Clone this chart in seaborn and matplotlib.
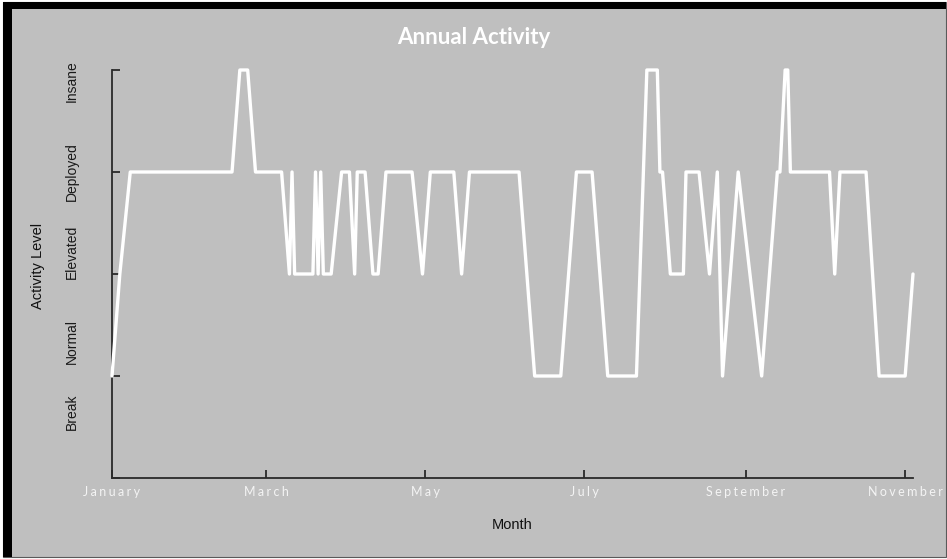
import matplotlib
matplotlib.use("Agg")
import matplotlib.pyplot as plt
import matplotlib.dates as mdates
from matplotlib.patches import Rectangle
import seaborn as sns
import pandas as pd

# ---------------- data ----------------
title = "Annual Activity"
x_title = "Month"
y_title = "Activity Level"
level_names = ["Break", "Normal", "Elevated", "Deployed", "Insane"]
month_ticks = ["2015-01-01", "2015-03-01", "2015-05-01", "2015-07-01", "2015-09-01", "2015-11-01"]
month_labels = ["January", "March", "May", "July", "September", "November"]

dates = [
    "2015-01-01", "2015-01-04", "2015-01-08", "2015-02-16", "2015-02-19", "2015-02-22",
    "2015-02-25", "2015-03-07", "2015-03-10", "2015-03-11", "2015-03-12", "2015-03-19",
    "2015-03-20", "2015-03-21", "2015-03-22", "2015-03-23", "2015-03-26", "2015-03-30",
    "2015-04-02", "2015-04-04", "2015-04-05", "2015-04-08", "2015-04-11", "2015-04-13",
    "2015-04-16", "2015-04-26", "2015-04-30", "2015-05-03", "2015-05-12", "2015-05-15",
    "2015-05-18", "2015-06-06", "2015-06-12", "2015-06-22", "2015-06-28", "2015-07-04",
    "2015-07-10", "2015-07-21", "2015-07-25", "2015-07-29", "2015-07-30", "2015-07-31",
    "2015-08-03", "2015-08-08", "2015-08-09", "2015-08-14", "2015-08-18", "2015-08-21",
    "2015-08-23", "2015-08-29", "2015-09-07", "2015-09-13", "2015-09-14", "2015-09-16",
    "2015-09-17", "2015-09-18", "2015-10-03", "2015-10-05", "2015-10-07", "2015-10-17",
    "2015-10-22", "2015-11-01", "2015-11-04",
]
activity = [
    "Normal", "Elevated", "Deployed", "Deployed", "Insane", "Insane",
    "Deployed", "Deployed", "Elevated", "Deployed", "Elevated", "Elevated",
    "Deployed", "Elevated", "Deployed", "Elevated", "Elevated", "Deployed",
    "Deployed", "Elevated", "Deployed", "Deployed", "Elevated", "Elevated",
    "Deployed", "Deployed", "Elevated", "Deployed", "Deployed", "Elevated",
    "Deployed", "Deployed", "Normal", "Normal", "Deployed", "Deployed",
    "Normal", "Normal", "Insane", "Insane", "Deployed", "Deployed",
    "Elevated", "Elevated", "Deployed", "Deployed", "Elevated", "Deployed",
    "Normal", "Deployed", "Normal", "Deployed", "Deployed", "Insane",
    "Insane", "Deployed", "Deployed", "Elevated", "Deployed", "Deployed",
    "Normal", "Normal", "Elevated",
]

df = pd.DataFrame({"date": pd.to_datetime(dates), "name": activity})
df["level"] = df["name"].map({n: i for i, n in enumerate(level_names)})

# ---------------- style ----------------
BG = "#bfbfbf"
W, H = 947, 559
sns.set_theme(style="white")
plt.rcParams["font.family"] = ["Liberation Sans", "DejaVu Sans"]

fig = plt.figure(figsize=(W / 100, H / 100), dpi=100, facecolor="white")

# frame: gray panel with black top/left bars
fig.add_artist(Rectangle((3 / W, 2 / H), 943 / W, 555 / H, transform=fig.transFigure,
                         facecolor=BG, edgecolor="#5a5a5a", lw=0.8, zorder=-10))
fig.add_artist(Rectangle((3 / W, 2 / H), 9 / W, 555 / H, transform=fig.transFigure,
                         facecolor="black", edgecolor="none", zorder=-9))
fig.add_artist(Rectangle((3 / W, (H - 9) / H), 943 / W, 7 / H, transform=fig.transFigure,
                         facecolor="black", edgecolor="none", zorder=-9))

ax = fig.add_axes([112 / W, 81 / H, 801 / W, 408 / H])
ax.set_facecolor(BG)

sns.lineplot(data=df, x="date", y="level", ax=ax, color="white", lw=2.4,
             clip_on=False, zorder=5)

ax.set_xlim(df["date"].min(), df["date"].max())
ax.set_ylim(0, len(level_names) - 1)

for s in ["top", "right"]:
    ax.spines[s].set_visible(False)
for s in ["left", "bottom"]:
    ax.spines[s].set_color("#2a2a2a")
    ax.spines[s].set_linewidth(1.3)

ax.set_yticks(range(len(level_names)))
ax.set_yticklabels([])
ax.set_xticks(pd.to_datetime(month_ticks))
ax.set_xticklabels(["\u2009\u200a".join(m) for m in month_labels],
                   fontsize=9, color="#f4f4f4", family=["Lato", "DejaVu Sans"])
ax.tick_params(axis="both", direction="in", length=5.5, width=1.3, color="#2a2a2a",
               left=True, bottom=True)
ax.tick_params(axis="x", pad=6)

# category labels along the y axis
label_frac = [0.162, 0.335, 0.555, 0.752, 0.973]
for name, fy in zip(level_names, label_frac):
    ax.text(-0.05, fy, name, transform=ax.transAxes, rotation=90,
            ha="center", va="center", fontsize=10, color="#1a1a1a")

ax.set_xlabel(x_title, fontsize=10.5, color="#111111", va="center")
ax.xaxis.set_label_coords(0.5, -(525 - 478) / 408)
ax.set_ylabel(y_title, fontsize=10.5, color="#111111", va="center", ha="center")
ax.yaxis.set_label_coords((38 - 112) / 801, 0.52)

fig.text(0.5, 1 - 38 / H, title, ha="center", va="center", fontsize=16,
         fontweight="bold", color="white", family=["Lato", "DejaVu Sans"])

fig.savefig("out.png", dpi=100, facecolor=fig.get_facecolor())
